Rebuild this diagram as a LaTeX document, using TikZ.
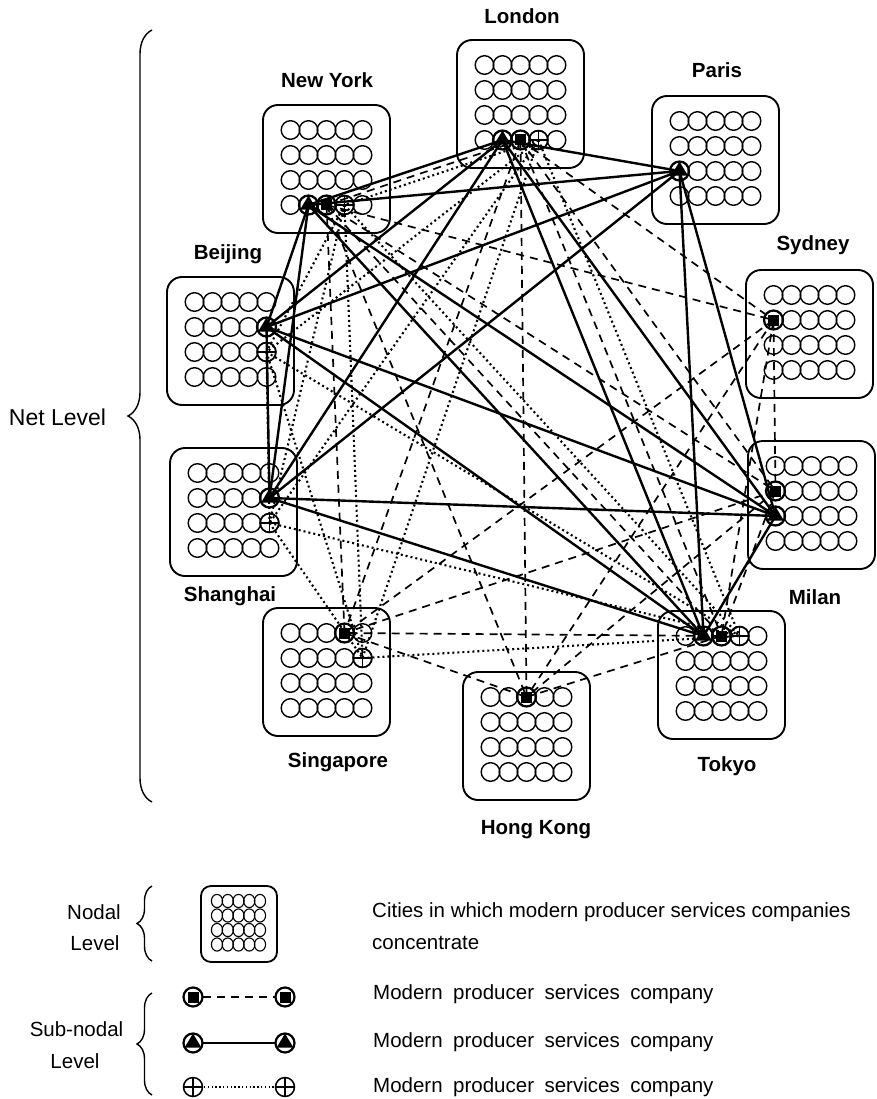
\documentclass[tikz,border=0pt]{standalone}
\usepackage{fontspec}
\setmainfont{Liberation Sans}
\usetikzlibrary{decorations.pathreplacing}
\tikzset{
  cbox/.style={draw, line width=1.9, rounded corners=15},
  lbox/.style={draw, line width=1.8, rounded corners=10},
  gridc/.style={draw, line width=1.4},
  smallc/.style={draw, line width=1.1},
  solidc/.style={line width=2.4},
  dashc/.style={line width=1.7, dash pattern=on 8pt off 6pt},
  dotc/.style={line width=2.1, dash pattern=on 2pt off 3pt},
  clabel/.style={font=\fontsize{20.5}{24}\selectfont\bfseries, inner sep=0},
  ltext/.style={font=\fontsize{20.5}{24}\selectfont, inner sep=0},
  mybrace/.style={decorate, decoration={brace, amplitude=#1}, line width=1.4},
}
\newcommand{\cityblock}[3]{%
  \draw[cbox] (#2,#3) rectangle ++(127,128);
  \foreach \r in {1,2,3,4}{\foreach \c in {1,2,3,4,5}{%
    \coordinate (#1-\r-\c) at ({#2+63.5+18*(\c-3)},{#3+25*\r});
    \draw[gridc] (#1-\r-\c) circle[radius=9.3];}}%
}
\newcommand{\trimark}[1]{%
  \begin{scope}[shift={(#1)}]
    \draw[line width=2.2] (0,0) circle[radius=9.5];
    \fill (0,-9.5) -- (8.4,4.6) -- (-8.4,4.6) -- cycle;
  \end{scope}}
\newcommand{\sqmark}[1]{%
  \begin{scope}[shift={(#1)}]
    \draw[line width=2.2] (0,0) circle[radius=9.5];
    \fill (-5.5,-5.5) rectangle (5.5,5.5);
  \end{scope}}
\newcommand{\plmark}[1]{%
  \begin{scope}[shift={(#1)}]
    \draw[line width=1.5] (0,0) circle[radius=9.5];
    \draw[line width=1.5] (-9.5,0) -- (9.5,0) (0,-9.5) -- (0,9.5);
  \end{scope}}
\begin{document}
\begin{tikzpicture}[x=1pt,y=-1pt]
\fill[white] (0,0) rectangle (876,1099);
\useasboundingbox (0,0) rectangle (876,1099);

% city boxes
\cityblock{Lon}{457}{40}
\cityblock{NY}{263}{105}
\cityblock{Par}{652}{96}
\cityblock{Bei}{167}{277}
\cityblock{Syd}{746}{270}
\cityblock{Sha}{170}{448}
\cityblock{Mil}{748}{441}
\cityblock{Sin}{263}{608}
\cityblock{Tok}{658}{611}
\cityblock{HK}{463}{672}

% city labels
\node[clabel] (lLon) at (522,16) {London};
\node[clabel] (lNY)  at (327,80) {New York};
\node[clabel] (lPar) at (717,70) {Paris};
\node[clabel] (lBei) at (228,254) {Beijing};
\node[clabel] (lSyd) at (813,245) {Sydney};
\node[clabel] (lSha) at (230,596) {Shanghai};
\node[clabel] (lMil) at (815,597) {Milan};
\node[clabel] (lSin) at (338,762) {Singapore};
\node[clabel] (lTok) at (727,766) {Tokyo};
\node[clabel] (lHK)  at (536,830) {Hong Kong};

% company positions
\coordinate (T-Lon) at (Lon-4-2); \coordinate (S-Lon) at (Lon-4-3); \coordinate (P-Lon) at (Lon-4-4);
\coordinate (T-NY) at (NY-4-2);   \coordinate (S-NY) at (NY-4-3);   \coordinate (P-NY) at (NY-4-4);
\coordinate (T-Par) at (Par-3-1);
\coordinate (T-Bei) at (Bei-2-5); \coordinate (P-Bei) at (Bei-3-5);
\coordinate (S-Syd) at (Syd-2-1);
\coordinate (T-Sha) at (Sha-2-5); \coordinate (P-Sha) at (Sha-3-5);
\coordinate (S-Mil) at (Mil-2-1); \coordinate (T-Mil) at (Mil-3-1);
\coordinate (S-Sin) at (Sin-1-4); \coordinate (P-Sin) at (Sin-2-5);
\coordinate (T-Tok) at (Tok-1-2); \coordinate (S-Tok) at (Tok-1-3); \coordinate (P-Tok) at (Tok-1-4);
\coordinate (S-HK) at (HK-1-3);

% dashed network
\foreach \a/\bl in {Lon/{NY,Syd,Mil,Tok,Sin,HK}, NY/{Syd,Mil,Tok,Sin,HK}, Syd/{Mil,Tok,Sin,HK}, Mil/{Tok,Sin,HK}, Tok/{Sin,HK}, Sin/{HK}}
  {\foreach \b in \bl {\draw[dashc] (S-\a) -- (S-\b);}}
% dotted network
\foreach \a/\bl in {Lon/{NY,Bei,Sha,Sin,Tok}, NY/{Bei,Sha,Sin,Tok}, Bei/{Sha,Sin,Tok}, Sha/{Sin,Tok}, Sin/{Tok}}
  {\foreach \b in \bl {\draw[dotc] (P-\a) -- (P-\b);}}
% solid network
\foreach \a/\bl in {Lon/{NY,Par,Bei,Sha,Mil,Tok}, NY/{Par,Bei,Sha,Mil,Tok}, Par/{Bei,Sha,Mil,Tok}, Bei/{Sha,Mil,Tok}, Sha/{Mil,Tok}, Mil/{Tok}}
  {\foreach \b in \bl {\draw[solidc] (T-\a) -- (T-\b);}}

% markers
\foreach \n in {Lon,NY,Par,Bei,Sha,Mil,Tok} {\trimark{T-\n}}
\foreach \n in {Lon,NY,Syd,Mil,Tok,Sin,HK} {\sqmark{S-\n}}
\foreach \n in {Lon,NY,Bei,Sha,Sin,Tok} {\plmark{P-\n}}

% net level brace
\draw[mybrace=24] (152,802) -- (152,30);
\node[font=\fontsize{23}{27}\selectfont, inner sep=0] (net) at (57.5,417) {Net Level};

% legend: nodal level
\draw[mybrace=15] (152,961) -- (152,886);
\node[ltext] (nod1) at (94,912) {Nodal};
\node[ltext] (nod2) at (95,943) {Level};
\draw[lbox] (201,886) rectangle (277,962);
\foreach \r in {1,2,3,4}{\foreach \c in {1,2,3,4,5}{%
  \draw[smallc] ({217+10.75*(\c-1)},{901+14.5*(\r-1)}) ellipse[x radius=5.6, y radius=6.6];}}
\node[ltext, anchor=west] (t1) at (372,912) {Cities in which modern producer services companies};
\node[ltext, anchor=west] (t2) at (372,943) {concentrate};

% legend: sub-nodal level
\draw[mybrace=15] (152,1095) -- (152,993);
\node[ltext] (sub1) at (76.5,1029) {Sub-nodal};
\node[ltext] (sub2) at (75,1061) {Level};

\coordinate (LSa) at (193,997);  \coordinate (LSb) at (285,997);
\coordinate (LTa) at (193,1043); \coordinate (LTb) at (285,1043);
\coordinate (LPa) at (193,1087); \coordinate (LPb) at (285,1087);
\draw[dashc, shorten <=10pt, shorten >=10pt] (LSa) -- (LSb);
\draw[solidc, shorten <=10pt, shorten >=10pt] (LTa) -- (LTb);
\draw[line width=1.7, dash pattern=on 1.4pt off 2.4pt, shorten <=11pt, shorten >=11pt] (LPa) -- (LPb);
\sqmark{LSa}\sqmark{LSb}
\trimark{LTa}\trimark{LTb}
\plmark{LPa}\plmark{LPb}

\node[ltext, anchor=west] (m1) at (373,994) {\spaceskip=10.5pt Modern producer services company};
\node[ltext, anchor=west] (m2) at (373,1042) {\spaceskip=10.5pt Modern producer services company};
\node[ltext, anchor=west] (m3) at (373,1087) {\spaceskip=10.5pt Modern producer services company};
\end{tikzpicture}
\end{document}
